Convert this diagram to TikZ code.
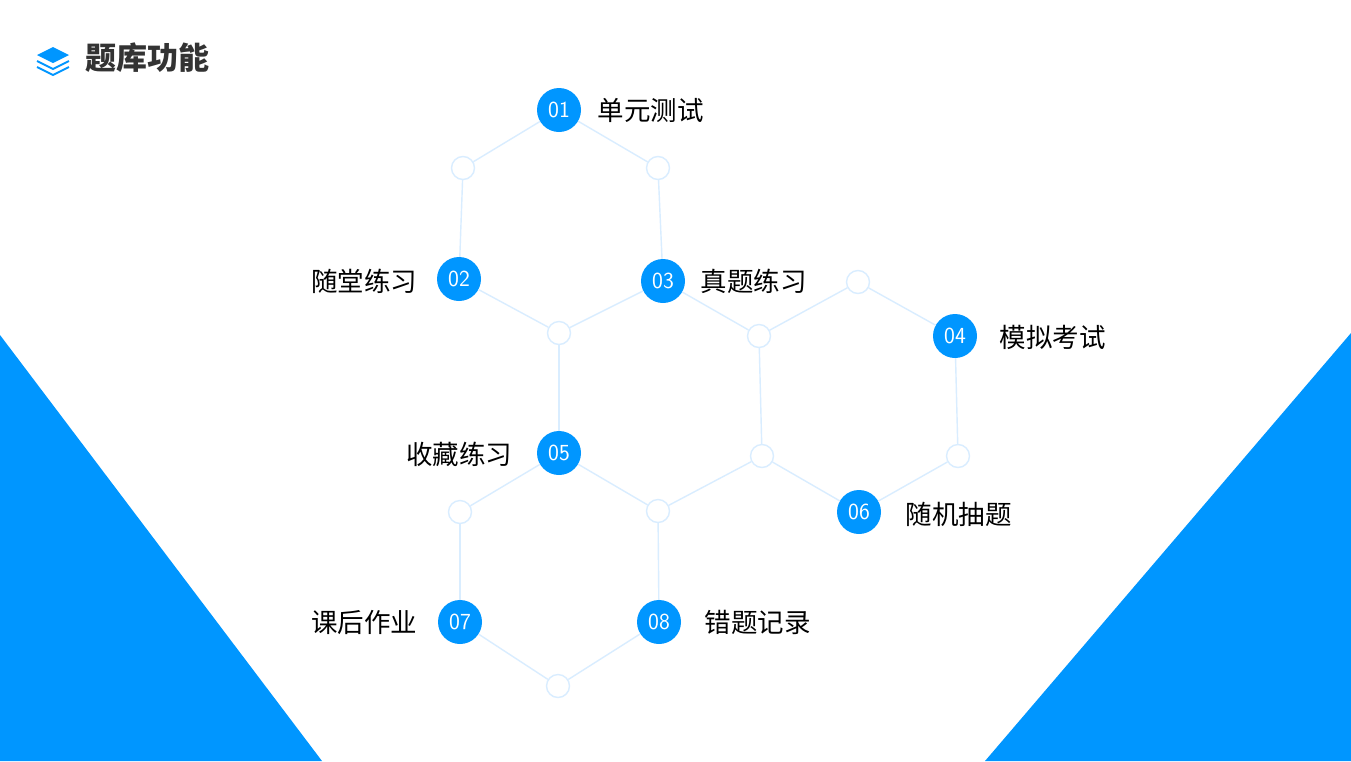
\documentclass[tikz,border=0pt]{standalone}
\usepackage{fontspec}
\setmainfont{Noto Sans CJK SC}
\begin{document}
\begin{tikzpicture}[x=1pt,y=-1pt,
  num/.style={circle,fill=mainblue,minimum size=44pt,inner sep=0pt,text=white,font=\fontsize{23}{23}\selectfont\sffamily},
  sm/.style={circle,draw=lineblue,line width=1.4pt,fill=white,minimum size=23pt,inner sep=0pt},
  lab/.style={font=\fontsize{26.5}{26.5}\selectfont,text=black},
  ln/.style={draw=lineblue,line width=1.4pt}]
\definecolor{mainblue}{HTML}{0096FF}
\definecolor{lineblue}{HTML}{D9EDFF}
\useasboundingbox (0,0) rectangle (1351,761);
\fill[white] (0,0) rectangle (1351,761);
\fill[mainblue] (0,335) -- (322,761) -- (0,761) -- cycle;
\fill[mainblue] (1351,333) -- (1351,761) -- (985,761) -- cycle;
% title icon
\begin{scope}[shift={(53,58)}]
\fill[mainblue] (0,-11) -- (16,-3) -- (0,5) -- (-16,-3) -- cycle;
\draw[mainblue,line width=2pt] (-16,3) -- (0,11) -- (16,3);
\draw[mainblue,line width=2pt] (-16,9) -- (0,17) -- (16,9);
\end{scope}
\node[anchor=west,font=\fontsize{31}{31}\selectfont\bfseries,text=black!80] (title) at (82,58) {题库功能};
% small circles
\node[sm] (s1) at (463,168) {};
\node[sm] (s2) at (658,168) {};
\node[sm] (s3) at (559,333) {};
\node[sm] (s4) at (759,336) {};
\node[sm] (s5) at (858,282) {};
\node[sm] (s6) at (958,456) {};
\node[sm] (s7) at (762,456) {};
\node[sm] (s8) at (460,512) {};
\node[sm] (s9) at (658,511) {};
\node[sm] (s10) at (558,686) {};
% numbered
\node[num] (n1) at (559,110) {01};
\node[num] (n2) at (459,279) {02};
\node[num] (n3) at (663,281) {03};
\node[num] (n4) at (955,336) {04};
\node[num] (n5) at (559,453) {05};
\node[num] (n6) at (859,512) {06};
\node[num] (n7) at (460,622) {07};
\node[num] (n8) at (659,622) {08};
\foreach \a/\b in {n1/s1,n1/s2,s1/n2,s2/n3,n2/s3,n3/s3,s3/n5,n3/s4,s4/s5,s5/n4,n4/s6,s6/n6,s4/s7,s7/n6,s7/s9,n5/s8,n5/s9,s8/n7,s9/n8,n7/s10,n8/s10}
  \path[ln] (\a) -- (\b);
% labels
\node[lab,anchor=west] (l1) at (594,110) {单元测试};
\node[lab,anchor=east] (l2) at (421,281) {随堂练习};
\node[lab,anchor=west] (l3) at (697,281) {真题练习};
\node[lab,anchor=west] (l4) at (996,337) {模拟考试};
\node[lab,anchor=east] (l5) at (516,454) {收藏练习};
\node[lab,anchor=west] (l6) at (902,514) {随机抽题};
\node[lab,anchor=east] (l7) at (421,622) {课后作业};
\node[lab,anchor=west] (l8) at (701,622) {错题记录};
\end{tikzpicture}
\end{document}
